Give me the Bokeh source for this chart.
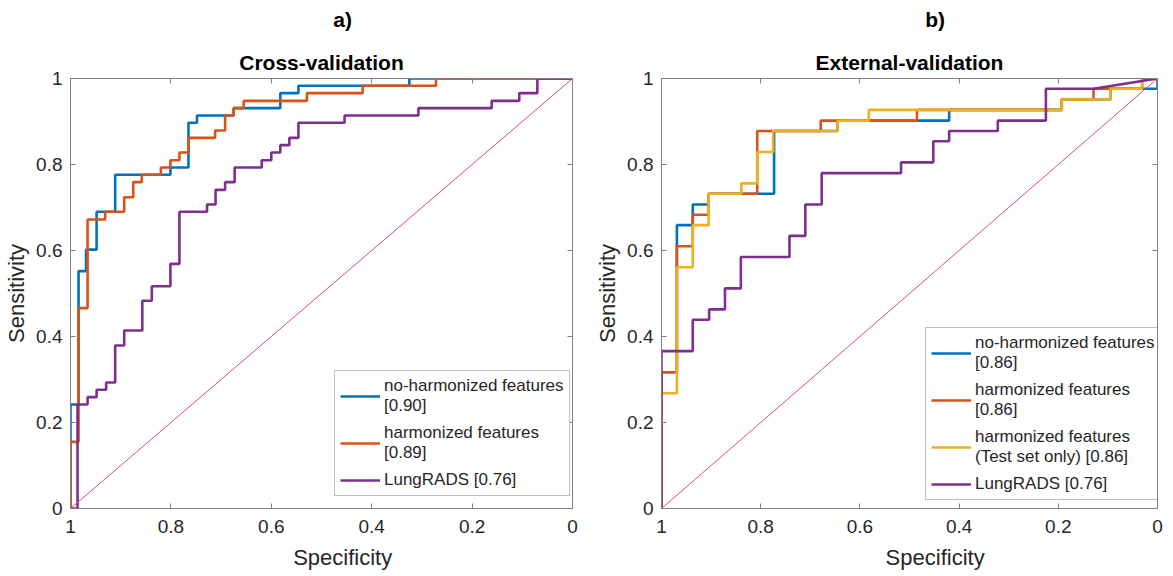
from bokeh.plotting import figure
from bokeh.layouts import row, column
from bokeh.models import Range1d, FixedTicker, Legend, LegendItem, Title, LinearAxis
from bokeh.core.properties import value
from bokeh.embed import file_html
from bokeh.resources import INLINE

# ---------------- data (ROC vertices: specificity, sensitivity) ----------------
TICKS = [0, 0.2, 0.4, 0.6, 0.8, 1]
TICK_LABELS = ["0", "0.2", "0.4", "0.6", "0.8", "1"]

CHANCE_SPEC = [1, 0]
CHANCE_SENS = [0, 1]

# a) Cross-validation
cv_noharm_spec = [1, 1, 0.984, 0.984, 0.969, 0.969, 0.948, 0.948, 0.911, 0.911, 0.801, 0.801,
                  0.765, 0.765, 0.748, 0.748, 0.675, 0.675, 0.582, 0.582, 0.546, 0.546,
                  0.325, 0.325, 0]
cv_noharm_sens = [0, 0.242, 0.242, 0.552, 0.552, 0.602, 0.602, 0.690, 0.690, 0.776, 0.776, 0.793,
                  0.793, 0.897, 0.897, 0.914, 0.914, 0.931, 0.931, 0.966, 0.966, 0.983,
                  0.983, 1, 1]

cv_harm_spec = [1, 1, 0.984, 0.984, 0.966, 0.966, 0.931, 0.931, 0.893, 0.893, 0.875, 0.875,
                0.858, 0.858, 0.820, 0.820, 0.801, 0.801, 0.783, 0.783, 0.765, 0.765,
                0.712, 0.712, 0.692, 0.692, 0.675, 0.675, 0.655, 0.655, 0.529, 0.529,
                0.418, 0.418, 0.272, 0.272, 0]
cv_harm_sens = [0, 0.155, 0.155, 0.466, 0.466, 0.672, 0.672, 0.690, 0.690, 0.724, 0.724, 0.759,
                0.759, 0.776, 0.776, 0.793, 0.793, 0.810, 0.810, 0.828, 0.828, 0.862,
                0.862, 0.879, 0.879, 0.914, 0.914, 0.931, 0.931, 0.948, 0.948, 0.966,
                0.966, 0.983, 0.983, 1, 1]

cv_lung_spec = [1, 0.986, 0.986, 0.966, 0.966, 0.948, 0.948, 0.929, 0.929, 0.911, 0.911, 0.893,
                0.893, 0.857, 0.857, 0.838, 0.838, 0.801, 0.801, 0.783, 0.783, 0.728,
                0.728, 0.711, 0.711, 0.692, 0.692, 0.673, 0.673, 0.619, 0.619, 0.600,
                0.600, 0.582, 0.582, 0.564, 0.564, 0.546, 0.546, 0.454, 0.454, 0.307,
                0.307, 0.161, 0.161, 0.106, 0.106, 0.070, 0.070, 0]
cv_lung_sens = [0, 0, 0.242, 0.242, 0.259, 0.259, 0.276, 0.276, 0.293, 0.293, 0.379, 0.379,
                0.414, 0.414, 0.483, 0.483, 0.517, 0.517, 0.569, 0.569, 0.690, 0.690,
                0.707, 0.707, 0.741, 0.741, 0.759, 0.759, 0.793, 0.793, 0.810, 0.810,
                0.828, 0.828, 0.845, 0.845, 0.862, 0.862, 0.897, 0.897, 0.914, 0.914,
                0.931, 0.931, 0.948, 0.948, 0.966, 0.966, 1, 1]

# b) External-validation
ev_noharm_spec = [1, 1, 0.969, 0.969, 0.937, 0.937, 0.905, 0.905, 0.773, 0.773, 0.645, 0.645,
                  0.420, 0.420, 0.193, 0.193, 0.095, 0.095, 0, 0]
ev_noharm_sens = [0, 0.317, 0.317, 0.659, 0.659, 0.707, 0.707, 0.732, 0.732, 0.878, 0.878, 0.902,
                  0.902, 0.927, 0.927, 0.951, 0.951, 0.976, 0.976, 1]

ev_harm_spec = [1, 1, 0.969, 0.969, 0.937, 0.937, 0.905, 0.905, 0.807, 0.807, 0.679, 0.679,
                0.485, 0.485, 0.193, 0.193, 0.129, 0.129, 0.031, 0.031, 0]
ev_harm_sens = [0, 0.317, 0.317, 0.610, 0.610, 0.683, 0.683, 0.732, 0.732, 0.878, 0.878, 0.902,
                0.902, 0.927, 0.927, 0.951, 0.951, 0.976, 0.976, 1, 1]

ev_test_spec = [1, 1, 0.969, 0.969, 0.937, 0.937, 0.905, 0.905, 0.839, 0.839, 0.807, 0.807,
                0.775, 0.775, 0.645, 0.645, 0.582, 0.582, 0.193, 0.193, 0.095, 0.095,
                0.031, 0.031, 0]
ev_test_sens = [0, 0.268, 0.268, 0.561, 0.561, 0.659, 0.659, 0.732, 0.732, 0.756, 0.756, 0.829,
                0.829, 0.878, 0.878, 0.902, 0.902, 0.927, 0.927, 0.951, 0.951, 0.976,
                0.976, 1, 1]

ev_lung_spec = [1, 1, 0.937, 0.937, 0.904, 0.904, 0.872, 0.872, 0.840, 0.840, 0.742, 0.742,
                0.710, 0.710, 0.677, 0.677, 0.517, 0.517, 0.452, 0.452, 0.420, 0.420,
                0.322, 0.322, 0.225, 0.225, 0.129, 0]
ev_lung_sens = [0, 0.366, 0.366, 0.439, 0.439, 0.463, 0.463, 0.512, 0.512, 0.585, 0.585, 0.634,
                0.634, 0.707, 0.707, 0.780, 0.780, 0.805, 0.805, 0.854, 0.854, 0.878,
                0.878, 0.902, 0.902, 0.976, 0.976, 1]

CV_LABELS = ["no-harmonized features\n[0.90]", "harmonized features\n[0.89]", "LungRADS [0.76]"]
EV_LABELS = ["no-harmonized features\n[0.86]", "harmonized features\n[0.86]",
             "harmonized features\n(Test set only) [0.86]", "LungRADS [0.76]"]
X_TITLE = "Specificity"
Y_TITLE = "Sensitivity"

# ---------------- styling / layout ----------------
BLUE, ORANGE, YELLOW, PURPLE = "#0072BD", "#D95319", "#EDB120", "#7E2F8E"
CHANCE = "#D6506E"
AX = "#808080"
TXT = "#262626"
FONT = "Liberation Sans"

HEAD_H = 43      # strip holding the panel letter
MAIN_TOP = 35    # room for the panel title
FRAME_H = 430
MAIN_BOTTOM = 34
FOOT_H = 30      # strip holding the x-axis title


def blank(width, height):
    f = figure(width=width, height=height, x_range=Range1d(0, width), y_range=Range1d(0, height),
               output_backend="svg", toolbar_location=None, title=None,
               min_border=0, min_border_left=0, min_border_right=0,
               min_border_top=0, min_border_bottom=0)
    f.axis.visible = False
    f.grid.visible = False
    f.outline_line_color = None
    f.background_fill_color = "white"
    f.border_fill_color = "white"
    return f


def style_axis(ax, standoff):
    ax.ticker = FixedTicker(ticks=TICKS)
    ax.major_label_overrides = {float(t): l for t, l in zip(TICKS, TICK_LABELS)}
    ax.major_tick_in = 5
    ax.major_tick_out = 0
    ax.minor_tick_line_color = None
    ax.axis_line_color = AX
    ax.major_tick_line_color = AX
    ax.major_label_text_font = FONT
    ax.major_label_text_font_size = "19px"
    ax.major_label_text_color = TXT
    ax.major_label_standoff = standoff
    ax.axis_label_text_font = FONT
    ax.axis_label_text_font_size = "22px"
    ax.axis_label_text_font_style = "normal"
    ax.axis_label_text_color = TXT
    ax.axis_label_standoff = 4


def box_axis():
    # tick-only axis for the top and right edges of the box (labels not drawn)
    ax = LinearAxis(ticker=FixedTicker(ticks=TICKS))
    ax.major_tick_in = 5
    ax.major_tick_out = 0
    ax.minor_tick_line_color = None
    ax.axis_line_color = AX
    ax.major_tick_line_color = AX
    ax.major_label_text_font_size = "1px"
    ax.major_label_text_color = None
    ax.major_label_standoff = 0
    return ax


def make_panel(letter, title, curves, labels, width, left, right, legend_loc):
    frame_w = width - left - right
    cx = left + frame_w / 2

    head = blank(width, HEAD_H)
    head.text(x=[cx], y=[HEAD_H - 19], text=[letter],
              text_font=value(FONT), text_font_size="21px", text_font_style="bold",
              text_color="black", text_align="center", text_baseline="middle")

    p = figure(width=width, height=MAIN_TOP + FRAME_H + MAIN_BOTTOM,
               x_range=Range1d(1, 0), y_range=Range1d(0, 1),
               output_backend="svg", toolbar_location=None, title=None,
               min_border_left=left, min_border_right=right,
               min_border_top=MAIN_TOP, min_border_bottom=MAIN_BOTTOM)
    p.xgrid.visible = False
    p.ygrid.visible = False
    p.outline_line_color = AX
    p.background_fill_color = "white"
    p.border_fill_color = "white"
    style_axis(p.xaxis[0], 11)
    style_axis(p.yaxis[0], 8)
    p.yaxis.axis_label = Y_TITLE

    p.add_layout(box_axis(), "above")
    p.add_layout(box_axis(), "right")
    p.add_layout(Title(text=title, align="center", text_font=FONT, text_font_size="21px",
                       text_font_style="bold", text_color="black", standoff=9), "above")

    items = []
    for (xs, ys, color), lbl in zip(curves, labels):
        r = p.line(xs, ys, line_color=color, line_width=2.6)
        items.append(LegendItem(label=lbl, renderers=[r]))
    p.line(CHANCE_SPEC, CHANCE_SENS, line_color=CHANCE, line_width=1)

    legend = Legend(items=items, location=legend_loc, margin=0,
                    padding=5, spacing=7, glyph_width=40, glyph_height=20,
                    label_height=20, label_standoff=4,
                    label_text_font=FONT, label_text_font_size="17px",
                    label_text_color=TXT, label_text_line_height=1.35,
                    border_line_color=AX, border_line_width=1,
                    background_fill_color="white", background_fill_alpha=1)
    p.add_layout(legend)

    foot = blank(width, FOOT_H)
    foot.text(x=[cx], y=[FOOT_H - 15], text=[X_TITLE],
              text_font=value(FONT), text_font_size="22px", text_color=TXT,
              text_align="center", text_baseline="middle")
    return column(head, p, foot, spacing=0)


c1 = make_panel("a)", "Cross-validation",
                [(cv_noharm_spec, cv_noharm_sens, BLUE),
                 (cv_harm_spec, cv_harm_sens, ORANGE),
                 (cv_lung_spec, cv_lung_sens, PURPLE)],
                CV_LABELS, width=592, left=70, right=20, legend_loc=(264, 12))

c2 = make_panel("b)", "External-validation",
                [(ev_noharm_spec, ev_noharm_sens, BLUE),
                 (ev_harm_spec, ev_harm_sens, ORANGE),
                 (ev_test_spec, ev_test_sens, YELLOW),
                 (ev_lung_spec, ev_lung_sens, PURPLE)],
                EV_LABELS, width=571, left=65, right=6, legend_loc=(264, 8))

layout = row(c1, c2, spacing=0)
open("out.html", "w").write(file_html(layout, INLINE))
